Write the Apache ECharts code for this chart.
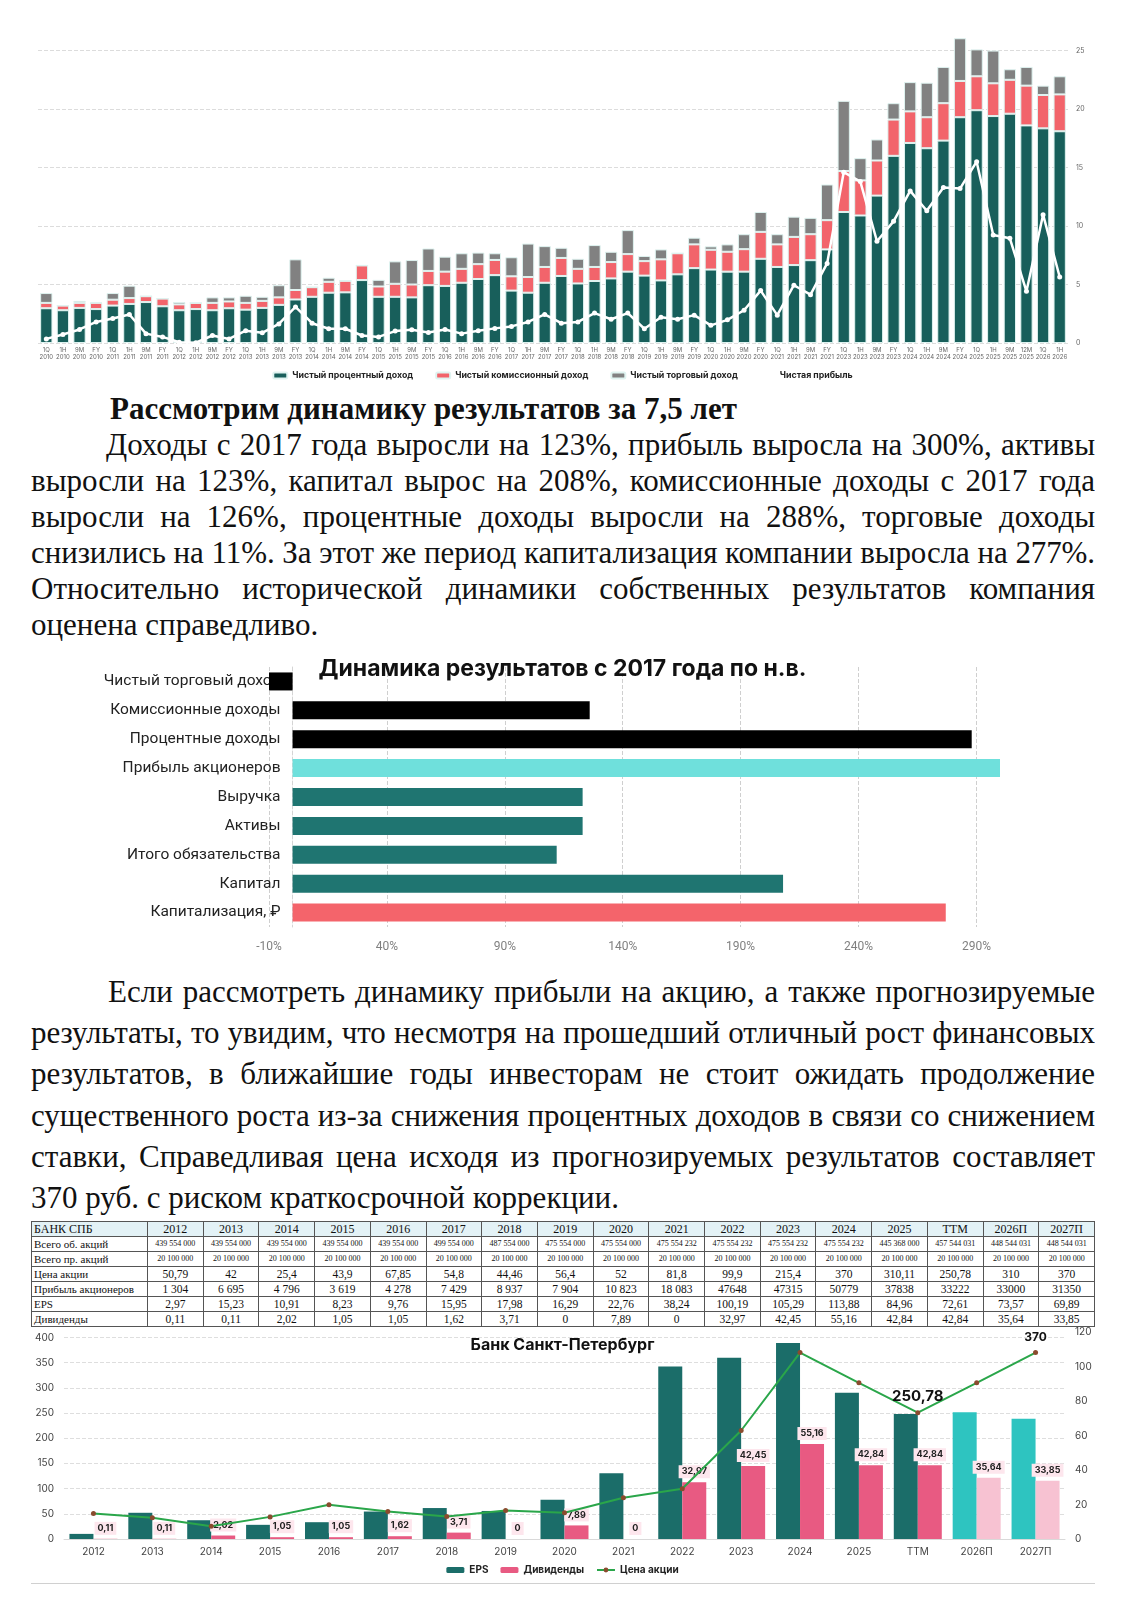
<!DOCTYPE html>
<html>
<head>
<meta charset="utf-8">
<script src="https://cdn.jsdelivr.net/npm/echarts@6/dist/echarts.min.js"></script>
<style>
  body { margin:0; width:1125px; height:1612px; position:relative; background:#fff; overflow:hidden; }
  .box { position:absolute; left:0; width:1125px; }
  .txt { position:absolute; left:31px; width:1064px; font-family:"Liberation Serif", serif; font-size:31px; color:#111; }
  .txt .ln { white-space:nowrap; text-align:justify; text-align-last:justify; overflow:hidden; }
  .txt .last { text-align:left; text-align-last:left; }
  .txt .h { font-weight:bold; padding-left:79px; }
  table { position:absolute; left:31px; top:1221px; width:1064px; border-collapse:collapse; table-layout:fixed;
          font-family:"Liberation Serif", serif; color:#111; }
  td { border:1px solid #555; height:14px; padding:0 2px; text-align:center; font-size:11.5px; line-height:14px; white-space:nowrap; overflow:hidden; }
  td:first-child { text-align:left; font-size:11px; }
  tr.hd td { background:#e3f2f6; font-size:12px; }
  tr.sm td { font-size:8px; }
  tr.sm td:first-child { font-size:11px; }
  .rule { position:absolute; left:31px; width:1064px; top:1583px; border-top:1px solid #d0d0d0; }
</style>
</head>
<body>
<div id="c1" class="box" style="top:0;height:380px"></div>

<div class="txt" style="top:391px;line-height:36px">
  <div class="h">Рассмотрим динамику результатов за 7,5 лет</div>
  <div class="ln" style="padding-left:75px">Доходы с 2017 года выросли на 123%, прибыль выросла на 300%, активы</div>
  <div class="ln">выросли на 123%, капитал вырос на 208%, комиссионные доходы с 2017 года</div>
  <div class="ln">выросли на 126%, процентные доходы выросли на 288%, торговые доходы</div>
  <div class="ln">снизились на 11%. За этот же период капитализация компании выросла на 277%.</div>
  <div class="ln">Относительно исторической динамики собственных результатов компания</div>
  <div class="ln last">оценена справедливо.</div>
</div>

<div id="c2" class="box" style="top:640px;height:320px"></div>

<div class="txt" style="top:971px;line-height:41.2px">
  <div class="ln" style="padding-left:77px">Если рассмотреть динамику прибыли на акцию, а также прогнозируемые</div>
  <div class="ln">результаты, то увидим, что несмотря на прошедший отличный рост финансовых</div>
  <div class="ln">результатов, в ближайшие годы инвесторам не стоит ожидать продолжение</div>
  <div class="ln">существенного роста из-за снижения процентных доходов в связи со снижением</div>
  <div class="ln">ставки, Справедливая цена исходя из прогнозируемых результатов составляет</div>
  <div class="ln last">370 руб. с риском краткосрочной коррекции.</div>
</div>

<table id="tbl"></table>

<div id="c4" class="box" style="top:1326px;height:286px"></div>
<div class="rule"></div>

<script>
// ---- график 1: доходы по периодам, млрд ----
const periods = ['1Q 2010','1H 2010','9M 2010','FY 2010','1Q 2011','1H 2011','9M 2011','FY 2011',
  '1Q 2012','1H 2012','9M 2012','FY 2012','1Q 2013','1H 2013','9M 2013','FY 2013',
  '1Q 2014','1H 2014','9M 2014','FY 2014','1Q 2015','1H 2015','9M 2015','FY 2015',
  '1Q 2016','1H 2016','9M 2016','FY 2016','1Q 2017','1H 2017','9M 2017','FY 2017',
  '1Q 2018','1H 2018','9M 2018','FY 2018','1Q 2019','1H 2019','9M 2019','FY 2019',
  '1Q 2020','1H 2020','9M 2020','FY 2020','1Q 2021','1H 2021','9M 2021','FY 2021',
  '1Q 2023','1H 2023','9M 2023','FY 2023','1Q 2024','1H 2024','9M 2024','FY 2024',
  '1Q 2025','1H 2025','9M 2025','12M 2025','1Q 2026','1H 2026']
const interestIncome = [2.97,2.8,3.0,2.9,3.2,3.34,3.5,3.14,2.8,2.9,2.8,2.97,2.85,3.0,3.26,3.72,
  3.95,4.3,4.33,5.38,3.95,3.95,3.9,4.94,4.88,5.15,5.47,5.8,4.48,4.3,5.15,5.73,
  5.09,5.3,5.52,6.1,5.76,5.35,5.87,6.4,6.28,6.1,6.1,7.2,6.5,6.66,7.08,8.0,
  11.2,10.9,12.6,16.0,17.1,16.65,17.3,19.3,19.9,19.4,19.6,18.6,18.35,18.1]
const feeIncome = [0.46,0.4,0.43,0.53,0.5,0.5,0.5,0.66,0.5,0.53,0.63,0.58,0.58,0.6,0.64,0.81,
  0.82,0.93,0.99,1.25,0.88,1.11,1.1,1.22,1.22,1.19,1.27,1.3,1.22,1.34,1.35,1.54,
  1.25,1.2,1.4,1.5,1.24,1.8,1.8,2.03,1.69,1.7,1.92,2.3,1.93,2.41,2.22,2.5,
  3.5,3.0,3.0,3.1,2.7,2.65,3.2,3.1,2.9,2.8,2.9,3.4,2.85,3.15]
const tradingIncome = [0.84,0,0.17,0.07,0.57,1.06,0,0,0.2,0,0.47,0.35,0.61,0.35,1.04,2.62,
  0,0.35,0,0,0.57,1.92,2.09,1.92,1.28,1.33,0.99,0.57,1.63,2.86,1.78,0.87,
  0.86,1.87,0.88,2.05,0.44,0.85,0,0.57,0.29,0.63,1.28,1.7,0.87,1.73,1.4,3.05,
  6.0,1.9,1.8,1.4,2.5,2.95,3.1,3.65,2.3,2.8,0.9,1.6,0.8,1.55]
const netProfit = [0.35,0.73,1.16,1.8,2.1,2.44,0.8,0.52,0.06,0.03,0.64,0.35,1.05,0.87,1.63,3.08,
  1.69,1.22,1.22,0.64,0.52,1.02,1.13,0.9,1.16,0.8,1.05,1.25,1.42,1.8,2.44,1.69,
  1.8,2.56,2.03,2.56,1.22,2.2,2.03,2.38,1.51,1.98,2.8,4.48,2.38,4.94,4.13,6.8,
  14.6,13.8,8.7,10.4,13.0,11.3,13.3,13.2,15.5,9.23,8.95,4.42,10.97,5.64]

// ---- график 2: изменение с 2017 года, % ----
const dynCats = ['Чистый торговый доход','Комиссионные доходы','Процентные доходы','Прибыль акционеров',
  'Выручка','Активы','Итого обязательства','Капитал','Капитализация, ₽']
const dynValues = [-10, 126, 288, 300, 123, 123, 112, 208, 277]
const dynColors = ['#000000','#000000','#000000','#6fe0dc','#1f7571','#1f7571','#1f7571','#1f7571','#f4646b']

// ---- таблица и график 4 ----
const years = ['2012','2013','2014','2015','2016','2017','2018','2019','2020','2021','2022','2023','2024','2025','TTM','2026П','2027П']
const sharesOrd = ['439 554 000','439 554 000','439 554 000','439 554 000','439 554 000','499 554 000','487 554 000','475 554 000',
  '475 554 000','475 554 232','475 554 232','475 554 232','475 554 232','445 368 000','457 544 031','448 544 031','448 544 031']
const sharesPref = years.map(() => '20 100 000')
const price = [50.79,42,25.4,43.9,67.85,54.8,44.46,56.4,52,81.8,99.9,215.4,370,310.11,250.78,310,370]
const profitTxt = ['1 304','6 695','4 796','3 619','4 278','7 429','8 937','7 904','10 823','18 083','47648','47315','50779','37838','33222','33000','31350']
const eps = [2.97,15.23,10.91,8.23,9.76,15.95,17.98,16.29,22.76,38.24,100.19,105.29,113.88,84.96,72.61,73.57,69.89]
const dividends = [0.11,0.11,2.02,1.05,1.05,1.62,3.71,0,7.89,0,32.97,42.45,55.16,42.84,42.84,35.64,33.85]
const forecastCount = 2

const comma = v => String(v).replace('.', ',')

// строки текста, которые не влезают, чуть поджимаем
document.querySelectorAll('.txt .ln').forEach(el => {
  let ls = 0
  while (el.scrollWidth > el.clientWidth && ls > -2) {
    ls -= 0.1
    el.style.letterSpacing = ls + 'px'
  }
})

// таблица
const rows = [
  ['hd', 'БАНК СПБ', years],
  ['sm', 'Всего об. акций', sharesOrd],
  ['sm', 'Всего пр. акций', sharesPref],
  ['', 'Цена акции', price.map(comma)],
  ['', 'Прибыль акционеров', profitTxt],
  ['', 'EPS', eps.map(comma)],
  ['', 'Дивиденды', dividends.map(comma)]
]
let html = '<colgroup><col style="width:116px">' + years.map(() => '<col>').join('') + '</colgroup>'
rows.forEach(r => {
  html += '<tr class="' + r[0] + '"><td>' + r[1] + '</td>' + r[2].map(v => '<td>' + v + '</td>').join('') + '</tr>'
})
document.getElementById('tbl').innerHTML = html

// график 1
const c1 = echarts.init(document.getElementById('c1'))
const edge = { borderColor:'#dff3f0', borderWidth:1 }
c1.setOption({
  animation:false,
  textStyle:{ fontFamily:'Inter' },
  grid:{ left:38, right:57, top:33, bottom:37 },
  legend:{ top:366, left:'center', itemWidth:14, itemHeight:6, itemGap:22,
    textStyle:{ fontSize:8.8, fontWeight:'bold', color:'#222' },
    data:['Чистый процентный доход','Чистый комиссионный доход','Чистый торговый доход','Чистая прибыль'] },
  xAxis:{ type:'category', data:periods.map(p => p.replace(' ', '\n')),
    axisLine:{ show:false }, axisTick:{ show:false },
    axisLabel:{ interval:0, fontSize:6, lineHeight:7, color:'#666', margin:4 } },
  yAxis:{ type:'value', position:'right', min:0, max:26.5, interval:5,
    axisLabel:{ fontSize:7, color:'#666', margin:8, showMaxLabel:false },
    splitLine:{ showMaxLine:false, lineStyle:{ type:'dashed', color:'#dcdcdc' } } },
  series:[
    { name:'Чистый процентный доход', type:'bar', stack:'inc', barWidth:'74%', data:interestIncome,
      itemStyle:Object.assign({ color:'#185f5b' }, edge) },
    { name:'Чистый комиссионный доход', type:'bar', stack:'inc', data:feeIncome,
      itemStyle:Object.assign({ color:'#f2646b' }, edge) },
    { name:'Чистый торговый доход', type:'bar', stack:'inc', data:tradingIncome,
      itemStyle:Object.assign({ color:'#818181' }, edge) },
    { name:'Чистая прибыль', type:'line', data:netProfit, symbol:'circle', symbolSize:5, z:5,
      lineStyle:{ color:'#ffffff', width:2.5 }, itemStyle:{ color:'#ffffff' } }
  ]
})

// график 2
const c2 = echarts.init(document.getElementById('c2'))
c2.setOption({
  animation:false,
  title:{ text:'Динамика результатов с 2017 года по н.в.', left:'center', top:13,
    textStyle:{ fontFamily:'Inter', fontSize:23, fontWeight:'bold', color:'#111' } },
  grid:{ left:269, right:125, top:27, bottom:33 },
  xAxis:{ type:'value', min:-10, max:300, interval:50,
    axisLabel:{ formatter:'{value}%', fontFamily:'Roboto', fontSize:12, color:'#808080', showMaxLabel:false, margin:14 },
    axisLine:{ show:false }, axisTick:{ show:false },
    splitLine:{ showMaxLine:false, lineStyle:{ type:'dashed', color:'#cfcfcf' } } },
  yAxis:{ type:'category', inverse:true, data:dynCats, offset:-23.5,
    axisLine:{ lineStyle:{ color:'#d5d5d5', type:'dashed' } }, axisTick:{ show:false },
    axisLabel:{ fontFamily:'Roboto', fontSize:15.5, color:'#222', margin:12 } },
  series:[{ type:'bar', barWidth:18, z:3,
    data:dynValues.map((v, i) => ({ value:v, itemStyle:{ color:dynColors[i] } })) }]
})

// график 4
const c4 = echarts.init(document.getElementById('c4'))
const n = years.length
c4.setOption({
  animation:false,
  textStyle:{ fontFamily:'Inter' },
  title:{ text:'Банк Санкт-Петербург', left:'center', top:6,
    textStyle:{ fontSize:16, fontWeight:'bold', color:'#111' } },
  legend:{ top:234, left:'center', itemWidth:18, itemHeight:6, itemGap:12,
    textStyle:{ fontSize:10, fontWeight:'bold', color:'#222' } },
  grid:[
    { left:64, right:60, top:11.5, bottom:73 },
    { left:64, right:60, top:6.4, bottom:73 }
  ],
  xAxis:[
    { type:'category', gridIndex:0, data:years, axisTick:{ show:false },
      axisLine:{ lineStyle:{ color:'#d9d9d9' } }, axisLabel:{ fontSize:10, color:'#444', margin:8 } },
    { type:'category', gridIndex:1, data:years, show:false }
  ],
  yAxis:[
    { type:'value', gridIndex:0, min:0, max:400, interval:50,
      axisLabel:{ fontSize:10, color:'#444', margin:10 },
      splitLine:{ lineStyle:{ type:'dashed', color:'#dedede' } } },
    { type:'value', gridIndex:1, position:'right', min:0, max:120, interval:20,
      axisLabel:{ fontSize:10, color:'#444', margin:10 }, splitLine:{ show:false } }
  ],
  series:[
    { name:'EPS', type:'bar', xAxisIndex:1, yAxisIndex:1, barWidth:24, barGap:'0%',
      itemStyle:{ color:'#1b6d69' },
      data:eps.map((v, i) => i >= n - forecastCount ? { value:v, itemStyle:{ color:'#2ec4c0' } } : v) },
    { name:'Дивиденды', type:'bar', xAxisIndex:1, yAxisIndex:1, barWidth:24,
      itemStyle:{ color:'#e85a82' },
      label:{ show:true, position:'top', distance:4, formatter:p => comma(p.value),
        fontSize:9, fontWeight:'bold', color:'#222', backgroundColor:'#fde6ed', padding:[2,3] },
      data:dividends.map((v, i) => i >= n - forecastCount ? { value:v, itemStyle:{ color:'#f7c2d2' } } : v) },
    { name:'Цена акции', type:'line', xAxisIndex:0, yAxisIndex:0, z:5,
      symbol:'circle', symbolSize:5, lineStyle:{ color:'#2aa64a', width:2 },
      itemStyle:{ color:'#8a4b2e' },
      data:price.map((v, i) => {
        if (years[i] === 'TTM') return { value:v, label:{ show:true, position:'top', distance:6, fontSize:15, fontWeight:'bold', color:'#111', formatter:comma(v) } }
        if (i === n - 1) return { value:v, label:{ show:true, position:'top', distance:7, fontSize:12, fontWeight:'bold', color:'#111', formatter:comma(v) } }
        return v
      }) }
  ]
})
</script>
</body>
</html>
